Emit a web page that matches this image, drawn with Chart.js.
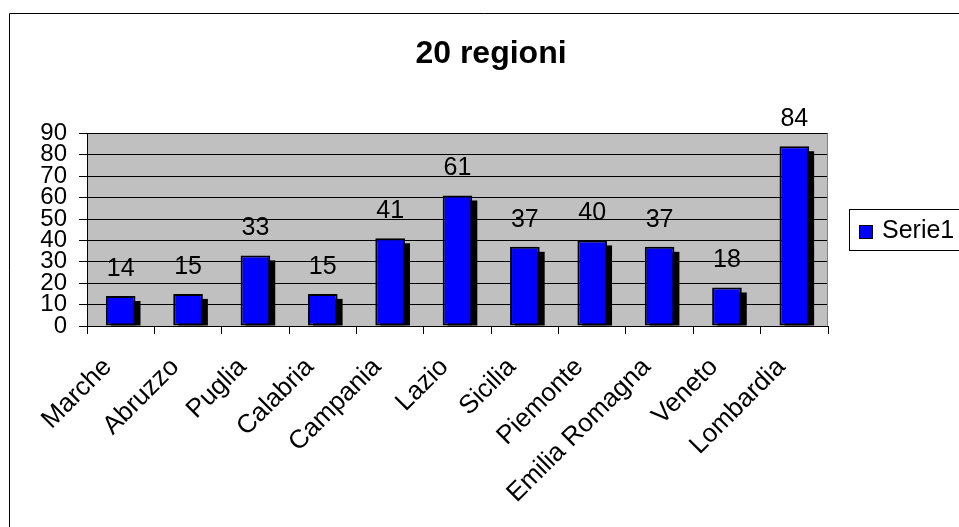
<!DOCTYPE html>
<html>
<head>
<meta charset="utf-8">
<script src="https://cdn.jsdelivr.net/npm/chart.js@4"></script>
<style>
  html, body { margin: 0; padding: 0; background: #fff; }
  #wrap { width: 959px; height: 527px; }
</style>
</head>
<body>
<div id="wrap"><canvas id="chart" width="959" height="527"></canvas></div>
<script>
// --- Data ---
const regions = ['Marche', 'Abruzzo', 'Puglia', 'Calabria', 'Campania', 'Lazio',
                 'Sicilia', 'Piemonte', 'Emilia Romagna', 'Veneto', 'Lombardia'];
const serie1 = [14, 15, 33, 15, 41, 61, 37, 40, 37, 18, 84];
const yTicks = [0, 10, 20, 30, 40, 50, 60, 70, 80, 90];
const seriesName = 'Serie1';

const FONT = '"Liberation Sans", Arial, sans-serif';

// gray plot area + frame around the whole chart
const backdrop = {
    id: 'backdrop',
    beforeDraw(chart) {
        const { ctx, chartArea: a } = chart;
        ctx.save();
        ctx.fillStyle = '#c0c0c0';
        ctx.fillRect(a.left, a.top, a.right - a.left, a.bottom - a.top);
        // outer chart frame (only top/left visible in the picture)
        ctx.strokeStyle = '#000';
        ctx.lineWidth = 1;
        ctx.beginPath();
        ctx.moveTo(9.5, chart.height + 2);
        ctx.lineTo(9.5, 13.5);
        ctx.lineTo(chart.width + 2, 13.5);
        ctx.stroke();
        ctx.restore();
    },
    beforeDatasetsDraw(chart) {
        const { ctx, chartArea: a } = chart;
        ctx.save();
        ctx.strokeStyle = '#808080';
        ctx.lineWidth = 1;
        ctx.beginPath();
        ctx.moveTo(a.right - 0.5, a.top);
        ctx.lineTo(a.right - 0.5, a.bottom);
        ctx.stroke();

        // flat black shadow, offset from each bar element
        const off = 5;
        ctx.fillStyle = '#000';
        chart.getDatasetMeta(0).data.forEach(bar => {
            const p = bar.getProps(['x', 'y', 'base', 'width'], true);
            const top = p.y + off;
            if (top < p.base) {
                ctx.fillRect(p.x - p.width / 2 + off, top, p.width, p.base - top);
            }
        });
        ctx.restore();
    }
};

// value labels above bars + legend box on the right
const labelsAndLegend = {
    id: 'labelsAndLegend',
    afterDraw(chart) {
        const ctx = chart.ctx;
        const meta = chart.getDatasetMeta(0);
        ctx.save();
        ctx.fillStyle = '#000';
        ctx.font = '25px ' + FONT;
        ctx.textAlign = 'center';
        ctx.textBaseline = 'alphabetic';
        meta.data.forEach((bar, i) => {
            ctx.fillText(String(serie1[i]), bar.x, bar.y - 20);
        });

        // legend
        const ds = chart.data.datasets[0];
        ctx.strokeStyle = '#000';
        ctx.lineWidth = 1;
        ctx.strokeRect(849.5, 209.5, 130, 41);
        ctx.fillStyle = ds.backgroundColor;
        ctx.fillRect(859.5, 225.5, 13, 13);
        ctx.strokeRect(859.5, 225.5, 13, 13);
        ctx.fillStyle = '#000';
        ctx.font = '25px ' + FONT;
        ctx.textAlign = 'left';
        ctx.textBaseline = 'middle';
        ctx.fillText(ds.label, 882, 231);
        ctx.restore();
    }
};

new Chart(document.getElementById('chart').getContext('2d'), {
    type: 'bar',
    data: {
        labels: regions,
        datasets: [{
            label: seriesName,
            data: serie1,
            backgroundColor: '#0000ff',
            borderColor: '#000',
            borderWidth: 2,
            borderSkipped: false,
            barPercentage: 0.44,
            categoryPercentage: 1,
            clip: 0
        }]
    },
    options: {
        responsive: false,
        animation: false,
        layout: { padding: { left: 23, right: 0, top: 0, bottom: 0 } },
        plugins: {
            legend: { display: false },
            tooltip: { enabled: false },
            title: {
                display: true,
                text: '20 regioni',
                color: '#000',
                font: { family: FONT, size: 32, weight: 'bold' },
                padding: { top: 35, bottom: 60 }
            }
        },
        scales: {
            x: {
                grid: { drawOnChartArea: false, drawTicks: true, tickLength: 8, color: '#000', offset: true },
                border: { display: true, color: '#000', width: 1 },
                ticks: {
                    autoSkip: false,
                    minRotation: 45,
                    maxRotation: 45,
                    padding: 18,
                    labelOffset: -13,
                    color: '#000',
                    font: { family: FONT, size: 26 }
                },
                afterFit(s) { s.height = 201; }
            },
            y: {
                min: 0,
                max: 90,
                afterBuildTicks(s) { s.ticks = yTicks.map(v => ({ value: v })); },
                grid: { color: '#000', tickLength: 8, drawTicks: true },
                border: { display: true, color: '#000', width: 1 },
                ticks: {
                    autoSkip: false,
                    padding: 12,
                    color: '#000',
                    font: { family: FONT, size: 24 }
                },
                afterFit(s) { s.width = 64; }
            },
            spacer: {
                type: 'linear',
                position: 'right',
                display: true,
                grid: { display: false, drawTicks: false },
                border: { display: false },
                ticks: { display: false },
                afterFit(s) { s.width = 131; }
            }
        }
    },
    plugins: [backdrop, labelsAndLegend]
});
</script>
</body>
</html>
